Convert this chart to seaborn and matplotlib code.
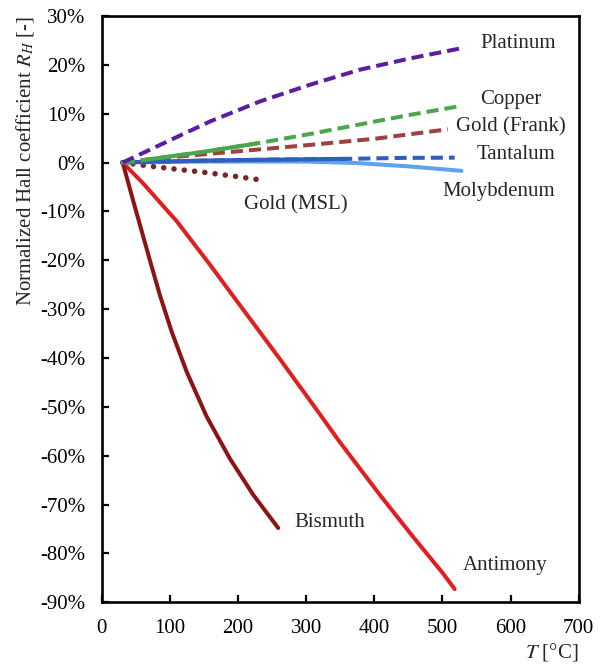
import numpy as np
import seaborn as sns
import matplotlib.pyplot as plt
from matplotlib.ticker import FuncFormatter

# Hall coefficient data (T in degC, R_H normalized in %)
pt_T = [30.8, 85.5, 158.8, 232, 305, 378.7, 452, 528]
pt_R = [0, 3.6, 8.4, 12.5, 15.9, 19.0, 21.3, 23.4]

cu_T = [30.8, 61, 150, 227, 300, 378.7, 450, 528]
cu_R = [0, 0.5, 2.2, 3.9, 5.7, 7.8, 9.7, 11.6]
cu_solid_T = [61, 150, 227]
cu_solid_R = [0.5, 2.2, 3.9]

auf_T = [30.8, 85.5, 200, 305, 403, 508]
auf_R = [0, 0.9, 2.3, 3.6, 4.9, 6.8]

ta_T = [30.8, 150, 250, 359, 440, 518]
ta_R = [0, 0.4, 0.6, 0.75, 0.95, 1.0]
ta_solid_T = [45, 150, 250, 359]
ta_solid_R = [0.1, 0.4, 0.6, 0.75]

mo_T = [30.8, 150, 300, 374, 452, 528]
mo_R = [0, 0.2, 0.2, -0.1, -0.8, -1.7]

aum_T = [30.8, 80, 150, 200, 240]
aum_R = [0, -0.9, -2.0, -2.9, -3.7]

bi_T = [30.8, 46.3, 61.0, 73.3, 85.5, 102.6, 124.6, 154.0, 188.1, 222.3, 259.0]
bi_R = [0, -7.9, -15.2, -21.3, -27.2, -34.6, -42.8, -52.0, -60.6, -68.0, -74.8]

sb_T = [30.8, 61.0, 110.0, 158.8, 207.6, 261.4, 310.3, 349.4, 383.6, 408.1,
        456.9, 500.9, 518.0]
sb_R = [0, -4.3, -12.0, -20.9, -30.1, -40.2, -49.6, -57.2, -63.5, -68.0,
        -76.6, -84.1, -87.3]

labels = ["Platinum", "Copper", "Gold (Frank)", "Tantalum", "Molybdenum",
          "Gold (MSL)", "Bismuth", "Antimony"]
label_T = [556, 556, 520, 550, 500, 209, 283, 530]
label_R = [24.4, 12.9, 7.4, 1.6, -5.9, -8.6, -73.6, -82.4]

sns.set_theme(style="ticks")
plt.rcParams['font.family'] = ['Liberation Serif', 'DejaVu Serif']
plt.rcParams['mathtext.fontset'] = 'stix'

fig = plt.figure(figsize=(6.03, 6.68), dpi=100)
ax = fig.add_axes([0.1687, 0.0984, 0.791, 0.8777])

lw = 2.9
dash = (3.0, 1.5)
sns.lineplot(x=sb_T, y=sb_R, color='#E02020', linewidth=lw, ax=ax)
sns.lineplot(x=bi_T, y=bi_R, color='#8B1515', linewidth=lw, ax=ax)
sns.lineplot(x=aum_T, y=aum_R, color='#7A2525', linewidth=4.0, ax=ax,
             linestyle=(0, (0.01, 1.85)), dash_capstyle='round')
sns.lineplot(x=mo_T, y=mo_R, color='#5AA5EE', linewidth=lw, ax=ax)
sns.lineplot(x=ta_T, y=ta_R, color='#2F5EBE', linewidth=lw, ax=ax,
             linestyle=(0, dash))
sns.lineplot(x=ta_solid_T, y=ta_solid_R, color='#2F5EBE', linewidth=lw, ax=ax)
sns.lineplot(x=auf_T, y=auf_R, color='#A04040', linewidth=lw, ax=ax,
             linestyle=(0, dash))
sns.lineplot(x=cu_T, y=cu_R, color='#4CA64C', linewidth=lw, ax=ax,
             linestyle=(0, dash))
sns.lineplot(x=cu_solid_T, y=cu_solid_R, color='#4CA64C', linewidth=lw, ax=ax)
sns.lineplot(x=pt_T, y=pt_R, color='#5A1E9E', linewidth=lw, ax=ax,
             linestyle=(0, dash))

for name, tx, ty in zip(labels, label_T, label_R):
    ax.text(tx, ty, name, fontsize=15, ha='left', va='center')

ax.set_xlim(0, 700)
ax.set_ylim(-90, 30)
ax.set_xticks(np.arange(0, 701, 100))
ax.set_yticks(np.arange(-90, 31, 10))
ax.yaxis.set_major_formatter(FuncFormatter(lambda v, p: f"{v:.0f}%"))
ax.tick_params(direction='in', length=5, width=1.6, labelsize=15, pad=12,
               colors='black')
for side in ['top', 'right', 'left', 'bottom']:
    ax.spines[side].set_visible(True)
    ax.spines[side].set_linewidth(1.9)
    ax.spines[side].set_color('black')

ax.set_xlabel("$T$ [°C]", fontsize=15, loc='right', labelpad=2)
ax.set_ylabel("Normalized Hall coefficient $R_H$ [-]", fontsize=15, loc='top',
              labelpad=3)

fig.savefig("out.png", dpi=100)
